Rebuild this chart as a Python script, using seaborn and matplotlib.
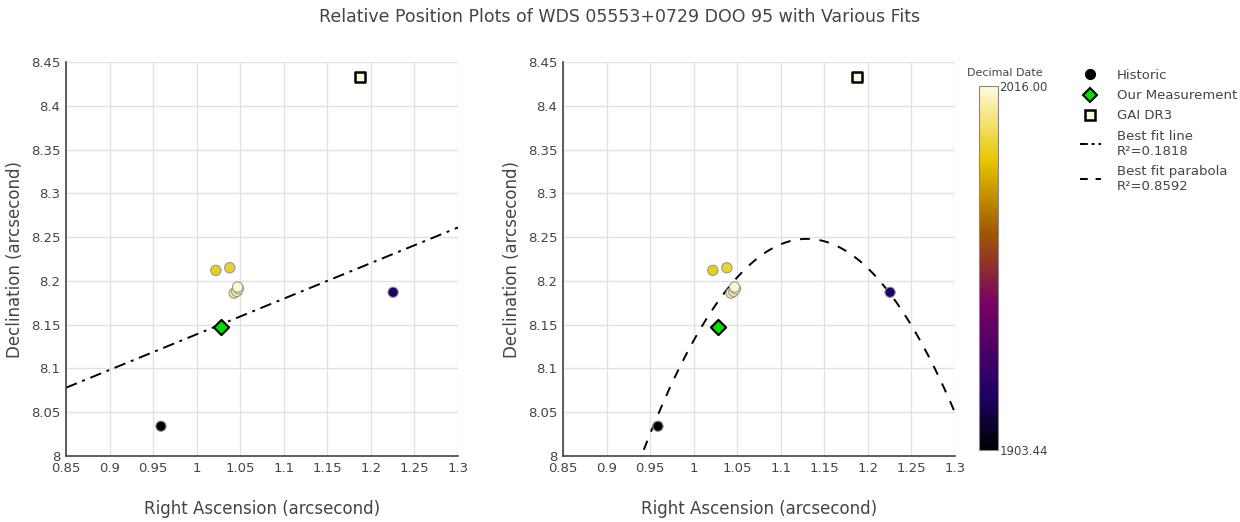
import numpy as np
import pandas as pd
import matplotlib
matplotlib.use('Agg')
import matplotlib.pyplot as plt
from matplotlib.colors import LinearSegmentedColormap, Normalize
from matplotlib.lines import Line2D
import seaborn as sns

# historic measurements (RA, Dec, decimal date)
hist_ra = [0.959, 1.2255, 1.022, 1.038, 1.043, 1.046, 1.048, 1.047]
hist_dec = [8.034, 8.187, 8.212, 8.215, 8.186, 8.188, 8.191, 8.193]
hist_date = [1903.44, 1920.0, 1996.0, 1998.0, 2008.0, 2010.0, 2012.0, 2015.0]

# our measurement
our_ra = [1.028]
our_dec = [8.147]

# GAIA DR3
gaia_ra = [1.1875]
gaia_dec = [8.433]
gaia_date = [2016.0]

# fits (coefficients)
line_slope, line_icpt = 0.4067, 8.078 - 0.4067 * 0.85
line_r2 = 0.1818
para_a, para_h, para_k = 6.87, 1.13, 8.248
para_r2 = 0.8592

date_min, date_max = 1903.44, 2016.00

electric = LinearSegmentedColormap.from_list('electric', [
    (0.0, (0, 0, 0)), (0.15, (30/255, 0, 100/255)), (0.4, (120/255, 0, 100/255)),
    (0.6, (160/255, 90/255, 0)), (0.8, (230/255, 200/255, 0)), (1.0, (1, 250/255, 220/255))])
norm = Normalize(date_min, date_max)

plt.rcParams['font.family'] = ['DejaVu Sans']
txt = '#444444'

hist_df = pd.DataFrame({'ra': hist_ra, 'dec': hist_dec, 'date': hist_date})

fig = plt.figure(figsize=(12.4, 5.22), dpi=100)
ax1 = fig.add_axes([66/1240, 66/522, 392/1240, 394/522])
ax2 = fig.add_axes([563/1240, 66/522, 392/1240, 394/522])

xs = np.linspace(0.85, 1.3, 300)

for ax, kind in [(ax1, 'line'), (ax2, 'para')]:
    ax.set_xlim(0.85, 1.3)
    ax.set_ylim(8.0, 8.45)
    ax.set_xticks(np.arange(0.85, 1.3001, 0.05))
    ax.set_yticks(np.arange(8.0, 8.4501, 0.05))
    ax.xaxis.set_major_formatter(matplotlib.ticker.FuncFormatter(lambda v, p: '%g' % round(v, 2)))
    ax.yaxis.set_major_formatter(matplotlib.ticker.FuncFormatter(lambda v, p: '%g' % round(v, 2)))
    ax.grid(True, color='#e2e2e2', linewidth=1)
    ax.set_axisbelow(True)
    for s in ['top', 'right']:
        ax.spines[s].set_visible(False)
    for s in ['left', 'bottom']:
        ax.spines[s].set_color('#444444')
        ax.spines[s].set_linewidth(1.2)
    ax.tick_params(length=0, labelsize=9.5, colors=txt, pad=4)

    if kind == 'line':
        ax.plot(xs, line_slope * xs + line_icpt, color='black', lw=1.4, ls=(0, (6, 3, 1.5, 3)), zorder=2)
    else:
        ax.plot(xs, para_k - para_a * (xs - para_h) ** 2, color='black', lw=1.4, ls=(0, (5, 5)), zorder=2)

    sns.scatterplot(data=hist_df, x='ra', y='dec', hue='date', palette=electric, hue_norm=norm,
                    s=55, edgecolor='#999999', linewidth=0.8, legend=False, ax=ax, zorder=3, clip_on=False)
    sns.scatterplot(x=our_ra, y=our_dec, marker='D', color='#00e000', s=60, edgecolor='black',
                    linewidth=1.5, ax=ax, zorder=4, legend=False)
    sns.scatterplot(x=gaia_ra, y=gaia_dec, marker='s', color=electric(norm(gaia_date[0])), s=60,
                    edgecolor='black', linewidth=1.8, ax=ax, zorder=4, legend=False)

    ax.set_xlabel('Right Ascension (arcsecond)', fontsize=12, color=txt, labelpad=18)
    ax.set_ylabel('Declination (arcsecond)', fontsize=12, color=txt, labelpad=5)

fig.suptitle('Relative Position Plots of WDS 05553+0729 DOO 95 with Various Fits',
             fontsize=12.5, color=txt, y=0.985)

# colorbar
cax = fig.add_axes([979/1240, 72/522, 19/1240, 364/522])
cb = fig.colorbar(matplotlib.cm.ScalarMappable(norm=norm, cmap=electric), cax=cax)
cb.outline.set_edgecolor('#888888')
cb.set_ticks([date_min, date_max])
cb.set_ticklabels(['%.2f' % date_min, '%.2f' % date_max])
cax.tick_params(length=0, labelsize=8.5, colors=txt, pad=1)
fig.text(1005/1240, 1 - 73/522, 'Decimal Date', fontsize=8, color=txt, ha='center', va='center')

handles = [
    Line2D([], [], marker='o', color='black', ls='none', markersize=7),
    Line2D([], [], marker='D', markerfacecolor='#00e000', markeredgecolor='black', markeredgewidth=1.5,
           ls='none', markersize=7),
    Line2D([], [], marker='s', markerfacecolor=electric(1.0), markeredgecolor='black', markeredgewidth=1.8,
           ls='none', markersize=7),
    Line2D([], [], color='black', lw=1.4, ls=(0, (4, 2, 1.5, 2))),
    Line2D([], [], color='black', lw=1.4, ls=(0, (4, 4))),
]
labels = ['Historic', 'Our Measurement', 'GAI DR3',
          'Best fit line\nR\u00b2=%.4f' % line_r2, 'Best fit parabola\nR\u00b2=%.4f' % para_r2]
leg = fig.legend(handles, labels, loc='upper left', bbox_to_anchor=(1068/1240, 1 - 57/522),
                 frameon=False, fontsize=9.5, handlelength=1.6, handletextpad=1.2, labelspacing=0.55,
                 labelcolor=txt)

fig.savefig('out.png', dpi=100)
